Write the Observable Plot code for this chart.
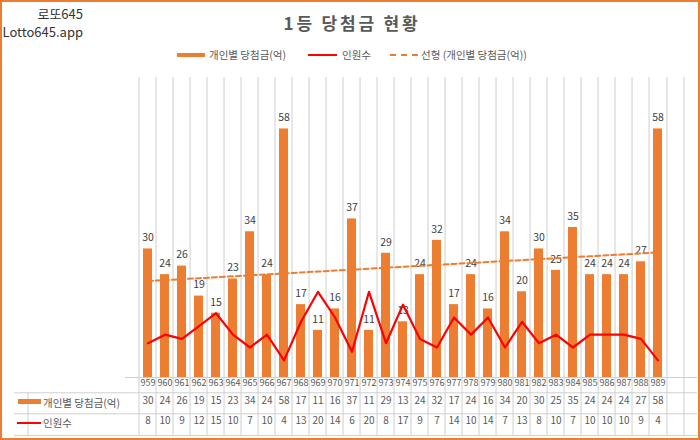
<!DOCTYPE html>
<html><head><meta charset="utf-8">
<script src="https://cdn.jsdelivr.net/npm/d3@7"></script>
<script src="https://cdn.jsdelivr.net/npm/@observablehq/plot@0.6"></script>
<style>
html,body{margin:0;padding:0;background:#fff;}
#wrap{position:relative;width:700px;height:440px;overflow:hidden;font-family:"Noto Sans CJK KR","Noto Sans",sans-serif;background:#fff;}
.abs{position:absolute;white-space:nowrap;}
#frame{position:absolute;left:0;top:0;width:700px;height:440px;box-sizing:border-box;border:2px solid #ED7D31;pointer-events:none;}
#wrap svg{position:absolute;left:0;top:0;}
.lg{font-size:10.5px;color:#595959;line-height:14px;}
</style></head><body>
<div id="wrap">
  <div class="abs" style="right:617px;top:6px;font-size:13px;line-height:16px;color:#333">로또645</div>
  <div class="abs" style="right:617px;top:24px;font-size:13px;line-height:16px;color:#333">Lotto645.app</div>
  <div class="abs" style="left:352px;top:12px;transform:translateX(-50%);font-size:17px;font-weight:bold;letter-spacing:2.8px;line-height:22px;color:#595959">1등 당첨금 현황</div>

  <div class="abs" style="left:177px;top:52.5px;width:28px;height:4.5px;background:#ED7D31"></div>
  <div class="abs lg" style="left:209px;top:48px">개인별 당첨금(억)</div>
  <div class="abs" style="left:308px;top:54px;width:29px;height:2px;background:#f00"></div>
  <div class="abs lg" style="left:342px;top:48px">인원수</div>
  <div class="abs" style="left:390px;top:54px;width:28px;height:0;border-top:2px dashed #ED7D31"></div>
  <div class="abs lg" style="left:421px;top:48px">선형 (개인별 당첨금(억))</div>

  <div class="abs" style="left:18px;top:398.5px;width:23px;height:5px;background:#ED7D31"></div>
  <div class="abs lg" style="left:43px;top:395.5px">개인별 당첨금(억)</div>
  <div class="abs" style="left:17px;top:421.5px;width:24px;height:2px;background:#f00"></div>
  <div class="abs lg" style="left:43px;top:415.5px">인원수</div>
</div>
<script>
const rounds  = [959,960,961,962,963,964,965,966,967,968,969,970,971,972,973,974,975,976,977,978,979,980,981,982,983,984,985,986,987,988,989];
const prize   = [30,24,26,19,15,23,34,24,58,17,11,16,37,11,29,13,24,32,17,24,16,34,20,30,25,35,24,24,24,27,58];
const winners = [8,10,9,12,15,10,7,10,4,13,20,14,6,20,8,17,9,7,14,10,14,7,13,8,10,7,10,10,10,9,4];

const data = rounds.map((r,i)=>({round:r, prize:prize[i], winners:winners[i], i}));
const mi = d3.mean(data, d=>d.i), mv = d3.mean(data, d=>d.prize);
const slope = d3.sum(data, d=>(d.i-mi)*(d.prize-mv)) / d3.sum(data, d=>(d.i-mi)**2);
const trend = data.map(d=>({round:d.round, t: mv + slope*(d.i-mi)}));

const W=700, H=440, ML=125, MR=20, MT=77, MB=63;
const step = (W-ML-MR)/rounds.length;
const grid = "#CFCFCF";
const font = '"Noto Sans CJK KR","Noto Sans",sans-serif';

const chart = Plot.plot({
  width:W, height:H, marginLeft:ML, marginRight:MR, marginTop:MT, marginBottom:MB,
  x:{type:"band", domain:rounds, paddingInner:0.47, paddingOuter:0.235, axis:null},
  y:{domain:[0,70], axis:null},
  style:{fontFamily:font, background:"transparent", overflow:"visible"},
  marks:[
    Plot.ruleX(rounds, {x:d=>d, dx:-step/2, stroke:grid, insetBottom:-58}),
    Plot.ruleX([rounds[rounds.length-1]], {x:d=>d, dx:step/2, stroke:grid, insetBottom:-58}),
    Plot.ruleX([rounds[0]], {x:d=>d, dx:-step/2-(ML-14), stroke:grid, insetTop:(H-MT-MB)+15.3, insetBottom:-58}),
    Plot.ruleX([rounds[rounds.length-1]], {x:d=>d, dx:step/2+(MR-3), stroke:grid, insetBottom:-58}),
    Plot.ruleY([0], {stroke:grid, insetRight:-(MR-3)}),
    Plot.ruleY([0], {dy:15.3, stroke:grid, insetLeft:-(ML-14), insetRight:-(MR-3)}),
    Plot.ruleY([0], {dy:36.3, stroke:grid, insetLeft:-(ML-14), insetRight:-(MR-3)}),
    Plot.ruleY([0], {dy:58, stroke:grid, insetLeft:-(ML-14), insetRight:-(MR-3)}),
    Plot.barY(data, {x:"round", y:"prize", fill:"#ED7D31"}),
    Plot.text(data, {x:"round", y:"prize", text:d=>String(d.prize), dy:-11, fontSize:10.5, fill:"#404040"}),
    Plot.line(trend, {x:"round", y:"t", stroke:"#ED7D31", strokeWidth:2, strokeDasharray:"5,3"}),
    Plot.line(data, {x:"round", y:"winners", stroke:"#f00", strokeWidth:2.2}),
    Plot.text(data, {x:"round", frameAnchor:"bottom", text:d=>String(d.round), dy:8, fontSize:9, fill:"#595959"}),
    Plot.text(data, {x:"round", frameAnchor:"bottom", text:d=>String(d.prize), dy:26, fontSize:10, fill:"#595959"}),
    Plot.text(data, {x:"round", frameAnchor:"bottom", text:d=>String(d.winners), dy:46.5, fontSize:10, fill:"#595959"})
  ]
});
const wrap = document.getElementById("wrap");
wrap.insertBefore(chart, wrap.firstChild);
const fr = document.createElement("div"); fr.id="frame"; wrap.appendChild(fr);
</script>
</body></html>
